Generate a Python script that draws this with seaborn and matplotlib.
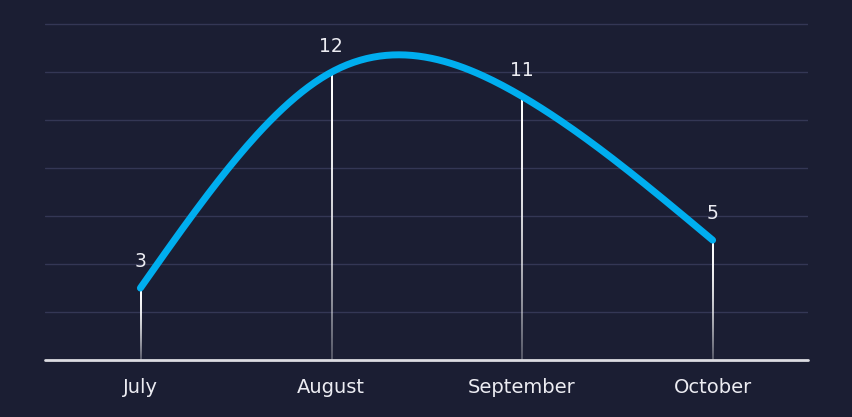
import numpy as np
import pandas as pd
import seaborn as sns
import matplotlib.pyplot as plt

months = ["July", "August", "September", "October"]
values = [3, 12, 11, 5]

bg = "#1b1e33"
line_color = "#00aeef"
grid_color = "#343755"
text_color = "#ececf2"

sns.set_theme(style="dark")
plt.rcParams["font.family"] = ["DejaVu Sans"]

fig, ax = plt.subplots(figsize=(8.52, 4.17), dpi=100)
fig.patch.set_facecolor(bg)
ax.set_facecolor(bg)
fig.subplots_adjust(left=45 / 852, right=808 / 852, top=1 - 10 / 417, bottom=1 - 360 / 417)

xs = np.arange(len(months), dtype=float)

# natural cubic spline through the points, for the smooth line only
ys = np.array(values, dtype=float)
n = len(xs)
A = np.zeros((n, n))
r = np.zeros(n)
A[0, 0] = A[-1, -1] = 1
for i in range(1, n - 1):
    A[i, i - 1], A[i, i], A[i, i + 1] = 1, 4, 1
    r[i] = 6 * (ys[i + 1] - 2 * ys[i] + ys[i - 1])
M = np.linalg.solve(A, r)
sx, sy = [], []
for i in range(n - 1):
    t = np.linspace(0, 1, 60)
    s = (1 - t) * ys[i] + t * ys[i + 1] + ((1 - t) ** 3 - (1 - t)) * M[i] / 6 + (t ** 3 - t) * M[i + 1] / 6
    sx.extend(xs[i] + t)
    sy.extend(s)
curve = pd.DataFrame({"x": sx, "y": sy})

# gridlines
for g in range(2, 15, 2):
    ax.axhline(g, color=grid_color, lw=1, zorder=0)

# fading drop lines as thin gradient images
px = 4.0 / 763  # one pixel in x data units
grad = np.zeros((200, 1, 4))
grad[..., :3] = 1.0
grad[:, 0, 3] = 0.25 + 0.75 * (1 - np.linspace(0, 1, 200) ** 1.8)
for x, v in zip(xs, values):
    ax.imshow(grad, extent=[x - 0.6 * px, x + 0.6 * px, 0, v], aspect="auto",
              interpolation="bilinear", zorder=1)

sns.lineplot(data=curve, x="x", y="y", ax=ax, color=line_color, lw=5,
             solid_capstyle="round", zorder=3)

for x, v in zip(xs, values):
    ax.text(x, v + 0.7, str(v), ha="center", va="bottom", color=text_color, fontsize=13.5, zorder=4)

ax.axhline(0, color="#dcdce2", lw=2, zorder=2, clip_on=False)

ax.set_xlim(-0.5, 3.5)
ax.set_ylim(0, 14.6)
ax.set_xticks(xs)
ax.set_xticklabels(months, color=text_color, fontsize=14)
ax.set_yticks([])
ax.tick_params(axis="x", length=0, pad=13)
ax.set_xlabel("")
ax.set_ylabel("")
ax.grid(False)
for s in ax.spines.values():
    s.set_visible(False)

fig.savefig("out.png", dpi=100, facecolor=bg)
